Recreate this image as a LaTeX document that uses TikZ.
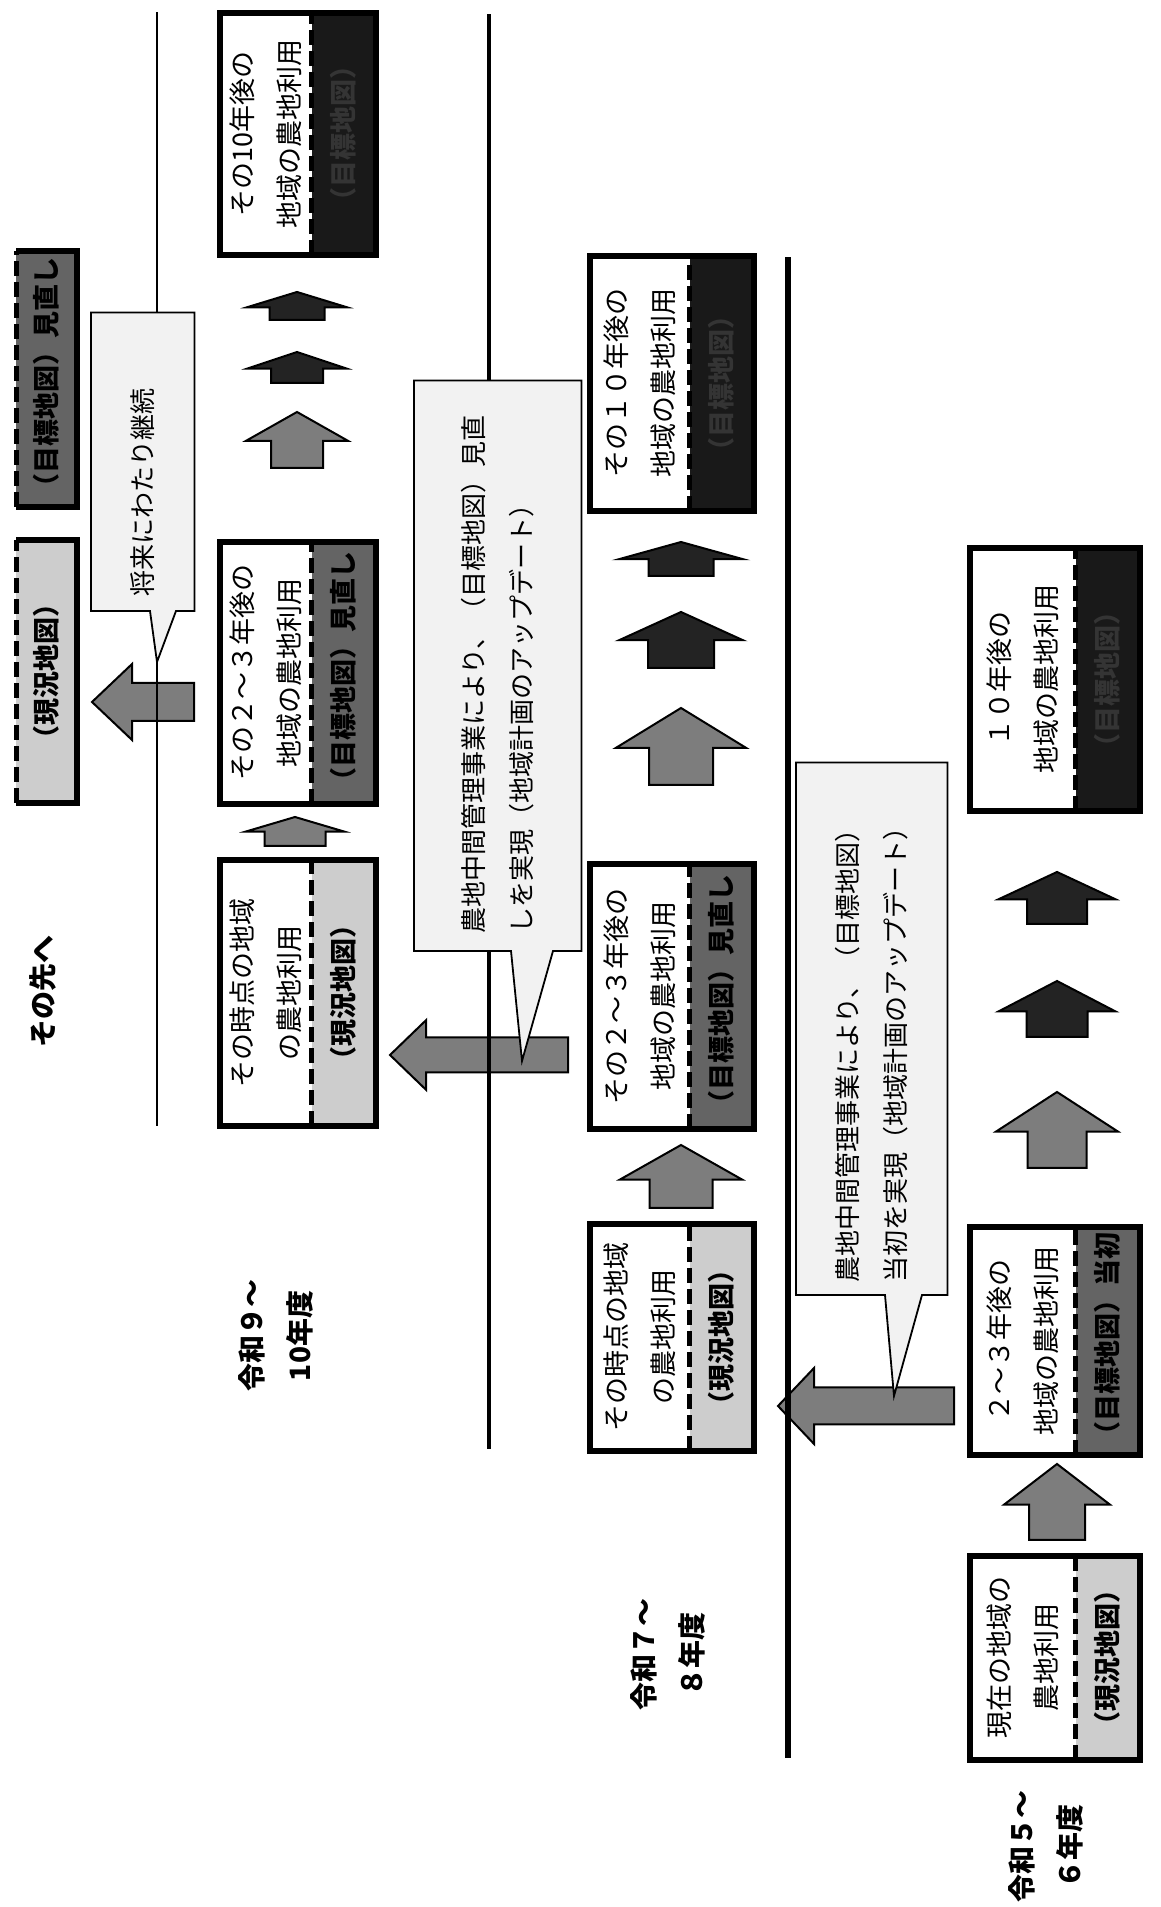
\documentclass[tikz,border=0pt]{standalone}
\usepackage{fontspec}
\setmainfont{Noto Sans CJK JP}
\usepackage{xcolor}
\usepackage{tikz}
\usetikzlibrary{positioning, shapes.arrows}
\definecolor{nowgray}{RGB}{205,205,205}
\definecolor{goalgray}{RGB}{100,100,100}
\definecolor{fargray}{RGB}{25,25,25}
\definecolor{fartext}{RGB}{52,52,52}
\definecolor{notegray}{RGB}{242,242,242}
\definecolor{stepgray}{RGB}{125,125,125}
\definecolor{stepdark}{RGB}{35,35,35}

\begin{document}
\begin{tikzpicture}[
    x=1pt, y=1pt,
    rotate=90, transform shape, % laid out in reading direction, page turned
    desc/.style={
        rectangle,
        fill=white,
        inner sep=0pt,
        align=center,
        anchor=north west,
        font=\fontsize{27}{47}\selectfont
    },
    nowmap/.style={
        rectangle,
        fill=nowgray,
        inner sep=0pt,
        minimum height=64pt,
        font=\bfseries\fontsize{27}{30}\selectfont
    },
    goalmap/.style={nowmap, fill=goalgray},
    farmap/.style={nowmap, fill=fargray, text=fartext},
    frame/.style={draw=black, line width=6pt},
    divider/.style={draw=black, line width=5pt, dash pattern=on 15pt off 6pt},
    rule/.style={draw=black},
    note/.style={
        rectangle,
        fill=notegray,
        inner sep=0pt,
        anchor=north west,
        align=left,
        font=\fontsize{26}{48}\selectfont
    },
    noteline/.style={draw=black, line width=1.8pt},
    term/.style={align=center, font=\bfseries\fontsize{28}{48}\selectfont},
    fwd/.style={
        single arrow,
        draw=black,
        line width=2pt,
        inner xsep=0pt,
        minimum width=0pt,
        outer sep=0pt,
        anchor=tail
    },
    lightarrow/.style={fwd, fill=stepgray},
    darkarrow/.style={fwd, fill=stepdark}
]
\useasboundingbox (0,0) rectangle (1907,-1161);

% 令和5~6年度
\node[desc, minimum width=204pt, minimum height=105pt] (cur56) at (147,-970) {現在の地域の\\農地利用};
\node[nowmap, minimum width=204pt, below=0pt of cur56] (cur56-map) {（現況地図）};
\draw[frame] (cur56.north west) rectangle (cur56-map.south east);
\draw[divider] (cur56.south west) -- (cur56.south east);

\node[desc, minimum width=228pt, minimum height=105pt] (mid56) at (452,-970) {２〜３年後の\\地域の農地利用};
\node[goalmap, minimum width=228pt, below=0pt of mid56] (mid56-map) {（目標地図）当初};
\draw[frame] (mid56.north west) rectangle (mid56-map.south east);
\draw[divider] (mid56.south west) -- (mid56.south east);

\node[desc, minimum width=263pt, minimum height=105pt] (ten56) at (1096,-970) {１０年後の\\地域の農地利用};
\node[farmap, minimum width=263pt, below=0pt of ten56] (ten56-map) {（目標地図）};
\draw[frame] (ten56.north west) rectangle (ten56-map.south east);
\draw[divider] (ten56.south west) -- (ten56.south east);

% 令和7~8年度
\node[desc, minimum width=227pt, minimum height=99pt] (cur78) at (456,-590) {その時点の地域\\の農地利用};
\node[nowmap, minimum width=227pt, below=0pt of cur78] (cur78-map) {（現況地図）};
\draw[frame] (cur78.north west) rectangle (cur78-map.south east);
\draw[divider] (cur78.south west) -- (cur78.south east);

\node[desc, minimum width=265pt, minimum height=99pt] (mid78) at (778,-590) {その２〜３年後の\\地域の農地利用};
\node[goalmap, minimum width=265pt, below=0pt of mid78] (mid78-map) {（目標地図）見直し};
\draw[frame] (mid78.north west) rectangle (mid78-map.south east);
\draw[divider] (mid78.south west) -- (mid78.south east);

\node[desc, minimum width=255pt, minimum height=99pt] (ten78) at (1396,-590) {その１０年後の\\地域の農地利用};
\node[farmap, minimum width=255pt, below=0pt of ten78] (ten78-map) {（目標地図）};
\draw[frame] (ten78.north west) rectangle (ten78-map.south east);
\draw[divider] (ten78.south west) -- (ten78.south east);

% 令和9~10年度
\node[desc, minimum width=266pt, minimum height=91pt] (cur910) at (781,-220) {その時点の地域\\の農地利用};
\node[nowmap, minimum width=266pt, below=0pt of cur910] (cur910-map) {（現況地図）};
\draw[frame] (cur910.north west) rectangle (cur910-map.south east);
\draw[divider] (cur910.south west) -- (cur910.south east);

\node[desc, minimum width=262pt, minimum height=91pt] (mid910) at (1103,-220) {その２〜３年後の\\地域の農地利用};
\node[goalmap, minimum width=262pt, below=0pt of mid910] (mid910-map) {（目標地図）見直し};
\draw[frame] (mid910.north west) rectangle (mid910-map.south east);
\draw[divider] (mid910.south west) -- (mid910.south east);

\node[desc, minimum width=242pt, minimum height=91pt] (ten910) at (1652,-220) {その10年後の\\地域の農地利用};
\node[farmap, minimum width=242pt, below=0pt of ten910] (ten910-map) {（目標地図）};
\draw[frame] (ten910.north west) rectangle (ten910-map.south east);
\draw[divider] (ten910.south west) -- (ten910.south east);

% その先へ
\node[nowmap, anchor=north west, minimum width=263pt, minimum height=61pt] (cur-later) at (1104,-16) {（現況地図）};
\draw[frame] (cur-later.north west) -- (cur-later.south west) -- (cur-later.south east) -- (cur-later.north east);
\draw[divider] (cur-later.north west) -- (cur-later.north east);

\node[goalmap, anchor=north west, minimum width=256pt, minimum height=61pt] (goal-later) at (1400,-16) {（目標地図）見直し};
\draw[frame] (goal-later.north west) -- (goal-later.south west) -- (goal-later.south east) -- (goal-later.north east);
\draw[divider] (goal-later.north west) -- (goal-later.north east);

% Arrows along each period
\node[lightarrow, minimum height=76pt, inner ysep=27pt, single arrow head extend=25pt, single arrow tip angle=105] (s561) at (367,-1057) {};
\node[lightarrow, minimum height=76pt, inner ysep=28.5pt, single arrow head extend=31.5pt, single arrow tip angle=114] (s562) at (739,-1057) {};
\node[darkarrow, minimum height=56pt, inner ysep=29.5pt, single arrow head extend=28pt, single arrow tip angle=125] (s563) at (870,-1057) {};
\node[darkarrow, minimum height=52pt, inner ysep=29pt, single arrow head extend=28.5pt, single arrow tip angle=130] (s564) at (983,-1057) {};

\node[lightarrow, minimum height=63pt, inner ysep=30.5pt, single arrow head extend=29.5pt, single arrow tip angle=121] (s781) at (699,-681) {};
\node[lightarrow, minimum height=77pt, inner ysep=31pt, single arrow head extend=33pt, single arrow tip angle=117] (s782) at (1122,-681) {};
\node[darkarrow, minimum height=56pt, inner ysep=32pt, single arrow head extend=29pt, single arrow tip angle=131] (s783) at (1239,-681) {};
\node[darkarrow, minimum height=34pt, inner ysep=31.5pt, single arrow head extend=29.5pt, single arrow tip angle=149] (s784) at (1331,-681) {};

\node[lightarrow, minimum height=29pt, inner ysep=29.5pt, single arrow head extend=18.5pt, single arrow tip angle=147] (s9101) at (1061,-295) {};
\node[lightarrow, minimum height=56pt, inner ysep=25pt, single arrow head extend=25pt, single arrow tip angle=121] (s9102) at (1439,-297) {};
\node[darkarrow, minimum height=31pt, inner ysep=25pt, single arrow head extend=23.5pt, single arrow tip angle=143] (s9103) at (1524,-297) {};
\node[darkarrow, minimum height=28pt, inner ysep=26.5pt, single arrow head extend=22.5pt, single arrow tip angle=146] (s9104) at (1587,-297) {};

% Arrows into the next period
\node[lightarrow, rotate=90, minimum height=176pt, inner ysep=17.5pt, single arrow head extend=19.5pt, single arrow tip angle=93] (hand56) at (501,-954) {};
\node[lightarrow, rotate=90, minimum height=178pt, inner ysep=16.5pt, single arrow head extend=17.5pt, single arrow tip angle=88] (hand78) at (852,-568) {};
\node[lightarrow, rotate=90, minimum height=102pt, inner ysep=18pt, single arrow head extend=19pt, single arrow tip angle=87] (hand910) at (1205,-194) {};

% Period rules
\draw[rule, line width=6pt] (149,-788) -- (1650,-788);
\draw[rule, line width=4pt] (458,-489) -- (1893,-489);
\draw[rule, line width=2.5pt] (781,-157) -- (1895,-157);

% Callouts
\node[note, text width=508pt, minimum width=532pt, minimum height=151pt] (initial) at (612,-796) {農地中間管理事業により、（目標地図）\\当初を実現（地域計画のアップデート）};
\coordinate (initial-tip) at (511,-894);
\coordinate (initial-a) at (612,-885);
\coordinate (initial-b) at (612,-922);
\fill[notegray] (initial-a) -- (initial-tip) -- (initial-b) -- cycle;
\draw[noteline] (initial.north west) -- (initial.north east) -- (initial.south east) -- (initial.south west) -- (initial-b) -- (initial-tip) -- (initial-a) -- cycle;

\node[note, text width=536pt, minimum width=570pt, minimum height=167pt] (review) at (956,-414) {農地中間管理事業により、（目標地図）見直\\しを実現（地域計画のアップデート）};
\coordinate (review-tip) at (846,-522);
\coordinate (review-a) at (956,-511);
\coordinate (review-b) at (956,-553);
\fill[notegray] (review-a) -- (review-tip) -- (review-b) -- cycle;
\draw[noteline] (review.north west) -- (review.north east) -- (review.south east) -- (review.south west) -- (review-b) -- (review-tip) -- (review-a) -- cycle;

\node[note, text width=270pt, minimum width=298pt, minimum height=103pt] (keep) at (1296,-91) {将来にわたり継続};
\coordinate (keep-tip) at (1245,-157);
\coordinate (keep-a) at (1296,-150);
\coordinate (keep-b) at (1296,-176);
\fill[notegray] (keep-a) -- (keep-tip) -- (keep-b) -- cycle;
\draw[noteline] (keep.north west) -- (keep.north east) -- (keep.south east) -- (keep.south west) -- (keep-b) -- (keep-tip) -- (keep-a) -- cycle;

% Period labels
\node[term] (y56) at (61,-1046) {令和５〜\\６年度};
\node[term] (y78) at (252,-668) {令和７〜\\８年度};
\node[term] (y910) at (571,-276) {令和９〜\\10年度};
\node[term] (later) at (915,-43) {その先へ};

\end{tikzpicture}
\end{document}
